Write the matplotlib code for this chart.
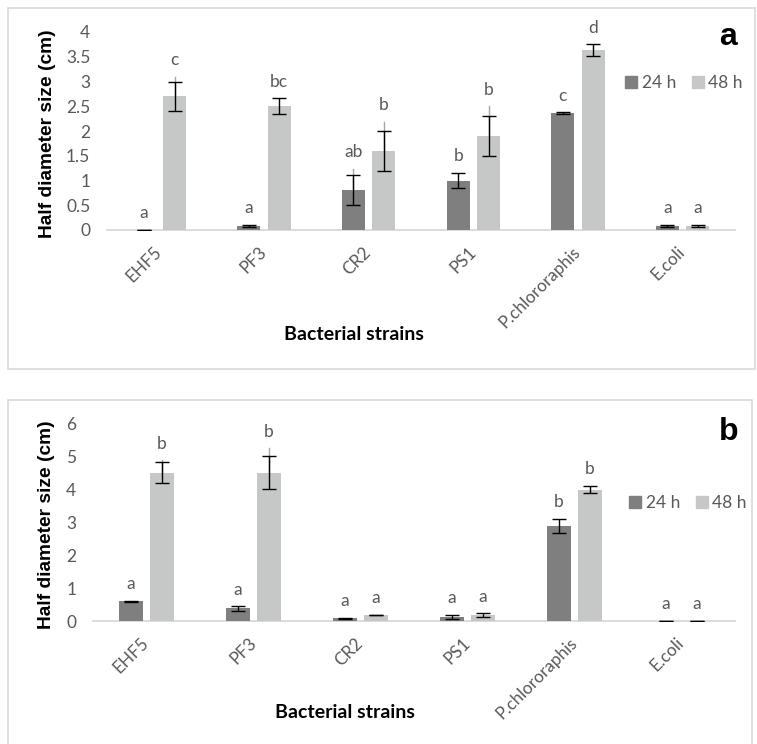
import matplotlib
matplotlib.use("Agg")
import matplotlib.pyplot as plt
from matplotlib.patches import Rectangle, Patch
import numpy as np

strains = ["EHF5", "PF3", "CR2", "PS1", "P.chlororaphis", "E.coli"]
series = ["24 h", "48 h"]

# Panel a
a_24 = [0.01, 0.08, 0.81, 1.00, 2.36, 0.08]
a_24_err = [0.0, 0.02, 0.30, 0.16, 0.02, 0.02]
a_48 = [2.70, 2.50, 1.60, 1.90, 3.63, 0.09]
a_48_err = [0.30, 0.16, 0.40, 0.41, 0.12, 0.02]
a_24_grey = [None, None, 1.24, None, None, None]
a_48_grey = [3.10, None, 2.19, 2.50, None, None]
a_24_let = ["a", "a", "ab", "b", "c", "a"]
a_48_let = ["c", "bc", "b", "b", "d", "a"]
a_ticks = [0, 0.5, 1, 1.5, 2, 2.5, 3, 3.5, 4]
a_ticklabels = ["0", "0.5", "1", "1.5", "2", "2.5", "3", "3.5", "4"]

# Panel b
b_24 = [0.60, 0.38, 0.08, 0.12, 2.89, 0.01]
b_24_err = [0.02, 0.07, 0.02, 0.065, 0.21, 0.0]
b_48 = [4.50, 4.50, 0.18, 0.17, 3.99, 0.01]
b_48_err = [0.32, 0.50, 0.01, 0.06, 0.11, 0.0]
b_24_grey = [None, None, None, None, None, None]
b_48_grey = [4.88, 5.24, None, None, None, None]
b_24_let = ["a", "a", "a", "a", "b", "a"]
b_48_let = ["b", "b", "a", "a", "b", "a"]
b_ticks = [0, 1, 2, 3, 4, 5, 6]
b_ticklabels = ["0", "1", "2", "3", "4", "5", "6"]

DARK = "#7f7f7f"
LIGHT = "#c6c7c7"
TXT = "#595959"
FRAME = "#d9d9d9"
FONT = "Lato"

W, H = 757, 744
fig = plt.figure(figsize=(W / 100, H / 100), dpi=100)


def fx(px):
    return px / W


def fy(py):
    return 1 - py / H


def panel(axrect, v24, e24, g24, l24, v48, e48, g48, l48, ticks, ticklabels,
          letter, letter_xy, legend_xy, xlabel_xy, ylabel_x):
    left, top, right, bottom = axrect
    ax = fig.add_axes([fx(left), fy(bottom), fx(right) - fx(left), fy(top) - fy(bottom)])
    x = np.arange(len(strains))
    off = 0.145
    bw = 0.22
    ax.bar(x - off, v24, bw, color=DARK, label=series[0], zorder=2)
    ax.bar(x + off, v48, bw, color=LIGHT, label=series[1], zorder=2)
    for xs, vals, g in ((x - off, v24, g24), (x + off, v48, g48)):
        for xi, v, gt in zip(xs, vals, g):
            if gt is not None:
                ax.plot([xi, xi], [v, gt], color="#a6a6a6", lw=1.0, zorder=3)
    ax.errorbar(x - off, v24, yerr=e24, fmt="none", ecolor="black", elinewidth=1.0,
                capsize=5, capthick=1.0, zorder=4)
    ax.errorbar(x + off, v48, yerr=e48, fmt="none", ecolor="black", elinewidth=1.0,
                capsize=5, capthick=1.0, zorder=4)
    for xs, vals, errs, g, lets in ((x - off, v24, e24, g24, l24), (x + off, v48, e48, g48, l48)):
        for xi, v, e, gt, lt in zip(xs, vals, errs, g, lets):
            top_v = v + e
            if gt is not None:
                top_v = max(top_v, gt)
            ax.annotate(lt, (xi, top_v), xytext=(0, 12), textcoords="offset points",
                        ha="center", va="center", fontsize=12.5, color=TXT, family=FONT)
    ax.set_xlim(-0.5, len(strains) - 0.5)
    ax.set_ylim(ticks[0], ticks[-1])
    ax.set_yticks(ticks)
    ax.set_yticklabels(ticklabels, fontsize=12.5, color=TXT, family=FONT)
    ax.set_xticks(x)
    ax.set_xticklabels(strains, rotation=45, ha="right", va="center",
                       rotation_mode="anchor", fontsize=12.3, color=TXT, family=FONT)
    ax.tick_params(axis="y", length=0, pad=12)
    ax.tick_params(axis="x", length=0, pad=14)
    for s in ("top", "right", "left"):
        ax.spines[s].set_visible(False)
    ax.spines["bottom"].set_color(FRAME)
    ax.spines["bottom"].set_linewidth(1.3)
    ax.spines["bottom"].set_zorder(1)
    handles = [Patch(color=DARK, label=series[0]), Patch(color=LIGHT, label=series[1])]
    lx, ly = legend_xy
    leg = fig.legend(handles=handles, loc="center", bbox_to_anchor=(fx(lx), fy(ly)),
                     ncol=2, frameon=False, handlelength=0.7, handleheight=0.7,
                     handletextpad=0.25, columnspacing=0.9,
                     prop={"family": FONT, "size": 12.5})
    for t in leg.get_texts():
        t.set_color(TXT)
    fig.text(fx(letter_xy[0]), fy(letter_xy[1]), letter, fontsize=23, fontweight="bold",
             family="Liberation Sans", ha="center", va="center")
    fig.text(fx(xlabel_xy[0]), fy(xlabel_xy[1]), "Bacterial strains", fontsize=14,
             fontweight="bold", family=FONT, ha="center", va="center")
    fig.text(fx(ylabel_x), fy((top + bottom) / 2 + 3), "Half diameter size (cm)", fontsize=13.8,
             fontweight="bold", family="Liberation Sans", rotation=90,
             ha="center", va="center")
    return ax


# frames
fig.patches.append(Rectangle((fx(8), fy(369)), fx(756) - fx(8) - 0.001, fy(8) - fy(369),
                             transform=fig.transFigure, fill=False, edgecolor=FRAME, lw=1.2))
fig.patches.append(Rectangle((fx(8), fy(760)), fx(752) - fx(8), fy(400) - fy(760),
                             transform=fig.transFigure, fill=False, edgecolor=FRAME, lw=1.2))

panel((107, 32, 735, 230), a_24, a_24_err, a_24_grey, a_24_let,
      a_48, a_48_err, a_48_grey, a_48_let, a_ticks, a_ticklabels,
      "a", (728, 37), (684, 83), (354, 334), 48)
panel((93, 423.3, 735, 621), b_24, b_24_err, b_24_grey, b_24_let,
      b_48, b_48_err, b_48_grey, b_48_let, b_ticks, b_ticklabels,
      "b", (729, 432), (688, 503), (345, 712), 47)

fig.savefig("out.png", dpi=100)
